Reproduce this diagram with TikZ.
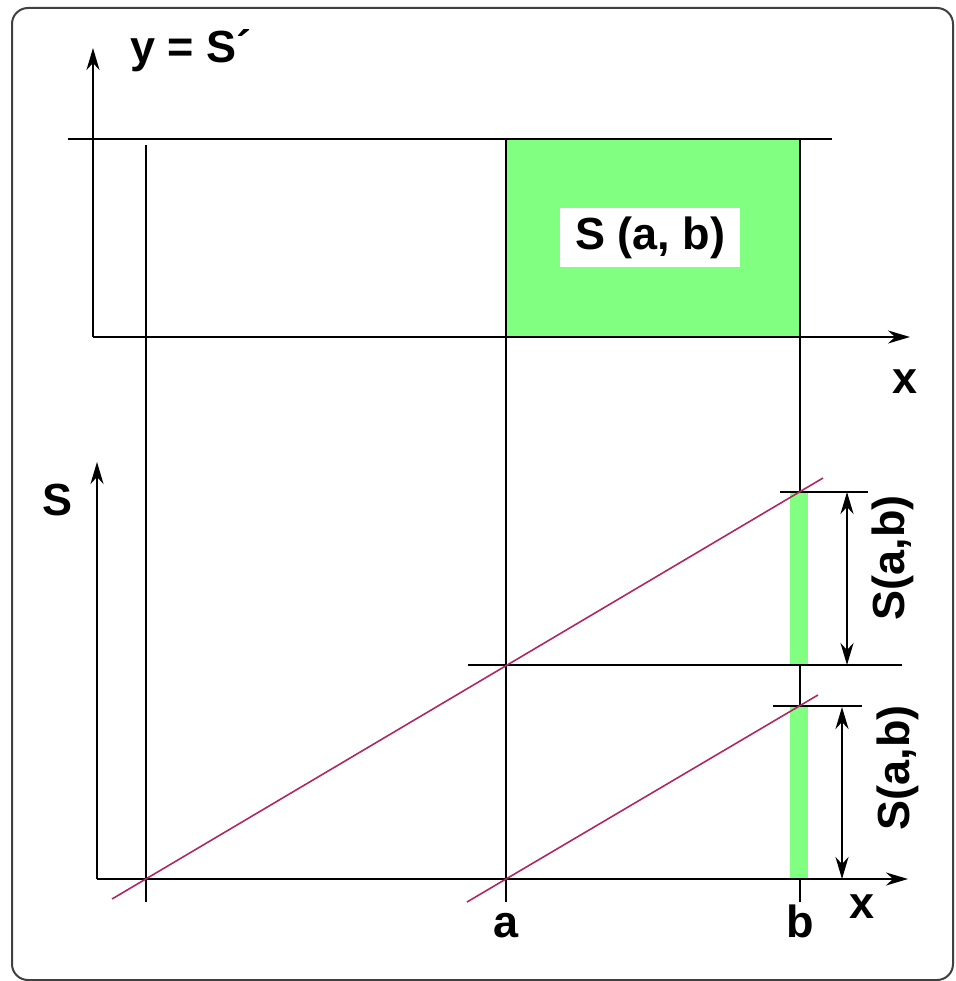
\documentclass[tikz,border=0pt]{standalone}
\usepackage{fontspec}
\setmainfont{Liberation Sans}
\usetikzlibrary{arrows.meta}
\definecolor{grn}{RGB}{128,255,128}
\definecolor{pnk}{RGB}{175,40,100}
\begin{document}
\begin{tikzpicture}[x=1pt,y=-1pt,
  ln/.style={line width=2.2pt,black},
  ax/.style={ln,-{Stealth[length=22pt,width=13pt,inset=7pt]}},
  dimarrow/.style={ln,{Stealth[length=22pt,width=13pt,inset=7pt]}-{Stealth[length=22pt,width=13pt,inset=7pt]}},
  diag/.style={line width=1.6pt,pnk},
  lbl/.style={font=\fontsize{45}{50}\selectfont\bfseries, inner sep=0pt},
]
\useasboundingbox (0,0) rectangle (955,981);
\draw[line width=2pt, rounded corners=16pt, black!75] (12,8) rectangle (953,980);

% coordinates
\coordinate (ta0) at (93,337);
\coordinate (tay) at (93,48);
\coordinate (tax) at (910,337);
\coordinate (hl) at (68,139);
\coordinate (hr) at (832,139);
\coordinate (v0t) at (146,145);
\coordinate (v0b) at (146,902);
\coordinate (vat) at (506,139);
\coordinate (vab) at (506,902);
\coordinate (vbt) at (800,139);
\coordinate (vbb) at (800,902);
\coordinate (ba0) at (97,879);
\coordinate (bay) at (97,462);
\coordinate (bax) at (908,879);
\coordinate (ml) at (468,665);
\coordinate (mr) at (902,665);
\coordinate (t1l) at (780,492);
\coordinate (t1r) at (868,492);
\coordinate (t2l) at (773,706);
\coordinate (t2r) at (862,706);
\coordinate (d1t) at (847,492);
\coordinate (d1b) at (847,665);
\coordinate (d2t) at (842,707);
\coordinate (d2b) at (842,879);
\coordinate (p1s) at (112,899);
\coordinate (p1e) at (823,478);
\coordinate (p2s) at (467,902);
\coordinate (p2e) at (818,695);

% green area top
\fill[grn] (506,139) rectangle (800,337);

% black lines
\draw[ln] (hl) -- (hr);
\draw[ax] (ta0) -- (tay);
\draw[ax] (ta0) -- (tax);
\draw[ln] (v0t) -- (v0b);
\draw[ln] (vat) -- (vab);
\draw[ln] (vbt) -- (vbb);
\draw[ax] (ba0) -- (bay);
\draw[ax] (ba0) -- (bax);
\draw[ln] (ml) -- (mr);

% green bars (cover the b line)
\fill[grn] (790,493) rectangle (808,664);
\fill[grn] (790,707) rectangle (808,878);

\draw[ln] (t1l) -- (t1r);
\draw[ln] (t2l) -- (t2r);
\draw[dimarrow] (d1t) -- (d1b);
\draw[dimarrow] (d2t) -- (d2b);

% pink lines
\draw[diag] (p1s) -- (p1e);
\draw[diag] (p2s) -- (p2e);

% labels
\node[lbl, anchor=base west] (ly) at (130,63) {y = S\char"00B4};
\node[lbl, anchor=base west] (ls) at (42,515) {S};
\node[lbl, fill=white, minimum width=180pt, minimum height=59pt] (lsab) at (650,238) {S (a, b)};
\node[lbl, anchor=base] (lx1) at (905,393) {x};
\node[lbl, anchor=base] (lx2) at (862,918) {x};
\node[lbl, anchor=base] (la) at (506,937) {a};
\node[lbl, anchor=base] (lb) at (800,937) {b};
\node[lbl, rotate=90] (lr1) at (893,558) {S(a,b)};
\node[lbl, rotate=90] (lr2) at (898,768) {S(a,b)};
\end{tikzpicture}
\end{document}
